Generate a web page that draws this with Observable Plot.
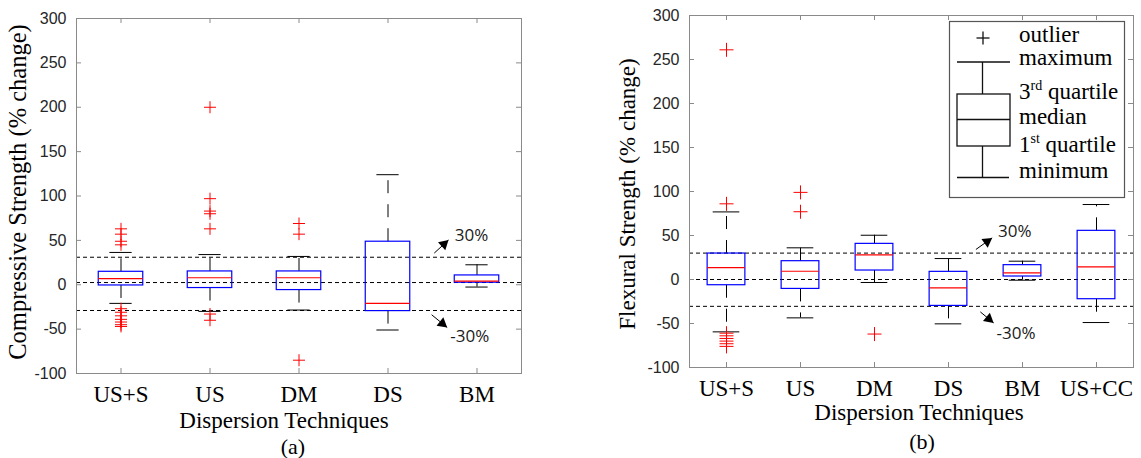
<!DOCTYPE html>
<html>
<head>
<meta charset="utf-8">
<script src="https://cdn.jsdelivr.net/npm/d3@7"></script>
<script src="https://cdn.jsdelivr.net/npm/@observablehq/plot@0.6"></script>
<style>
  body { margin: 0; background: #fff; }
  #fig { position: relative; width: 1141px; height: 458px; overflow: hidden; background: #fff; }
  #fig > svg { position: absolute; top: 0; }
</style>
</head>
<body>
<div id="fig"></div>
<script>
// ---------- (a) Compressive strength, % change ----------
const techniquesA = ["US+S", "US", "DM", "DS", "BM"];
const compLow    = [-21, -30, -28.5, -51, -2.6];
const compQ1     = [-0.8, -3.7, -6, -29.7, 2.3];
const compMedian = [6.8, 7.9, 7.9, -21, 4.1];
const compQ3     = [14.6, 15, 15, 48.5, 10.5];
const compHigh   = [36.4, 34, 31.9, 124, 22.5];
const compOutliers = [
  [63, 57, 49, 45, -27, -31, -35, -39, -42, -45, -47],
  [200, 97, 83, 80, 63, -33, -40],
  [69, 57, -85],
  [],
  []
];
const compRefLines = [31, 2.5, -29];

// ---------- (b) Flexural strength, % change ----------
const techniquesB = ["US+S", "US", "DM", "DS", "BM", "US+CC"];
const flexLow    = [-59.5, -43.6, -3.4, -50.4, -0.8, -48.9];
const flexQ1     = [-6.5, -10.7, 10.2, -30, 3.4, -22.4];
const flexMedian = [13.6, 9.4, 28, -9.5, 7.5, 14.3];
const flexQ3     = [29.5, 20.8, 40.5, 8.7, 16.3, 55.3];
const flexHigh   = [76.8, 36, 50.3, 23.8, 20.8, 85.2];
const flexOutliers = [
  [261, 86, -61, -64, -67, -70, -73, -76],
  [99, 77],
  [-62],
  [],
  [],
  []
];
const flexRefLines = [30, 0, -30.5];

// ---------- threshold annotations ----------
const annLabels = ["30%", "-30%"];
const annTextXA = [3.75, 3.70], annTextYA = [56, -58];
const annFromXA = [3.52, 3.49], annFromYA = [35.7, -33.8];
const annToXA   = [3.68, 3.665], annToYA  = [50.4, -48.1];
const annTextXB = [3.67, 3.65], annTextYB = [54.5, -61.8];
const annFromXB = [3.37, 3.43], annFromYB = [34.1, -36.8];
const annToXB   = [3.59, 3.61], annToYB   = [47.3, -49.3];

const yTicks = [-100, -50, 0, 50, 100, 150, 200, 250, 300];
const yDomain = [-100, 300];

const FRAME = "#8a8a8a";
const BOX = "#0000ff";
const MEDIAN = "#ff0000";
const OUTLIER = "#ff0000";

// open "+" marker drawn as two strokes
const plusSymbol = {
  draw(context, size) {
    const r = Math.sqrt(size / Math.PI);
    context.moveTo(-r, 0); context.lineTo(r, 0);
    context.moveTo(0, -r); context.lineTo(0, r);
  }
};

function boxPanel(cfg) {
  const {names, low, q1, med, q3, high, outliers, refs, ann, width, height, margin,
         capHalf, boxHalf, crossR, tickFont} = cfg;
  const idx = names.map((_, i) => i);
  const stats = idx.map(i => ({i, low: low[i], q1: q1[i], med: med[i], q3: q3[i], high: high[i]}));
  const pts = idx.flatMap(i => outliers[i].map(v => ({i, v})));
  const plotW = width - margin.left - margin.right;
  const plotH = height - margin.top - margin.bottom;
  const pxX = plotW / names.length;
  const pxY = plotH / (yDomain[1] - yDomain[0]);

  // filled arrowheads, rotated along each shaft in screen space
  const headR = 4;
  const back = 2 * Math.sqrt(Math.PI * headR * headR / (3 * Math.sqrt(3)));
  const heads = ann.map(a => {
    const dx = (a.x2 - a.x1) * pxX, dy = -(a.y2 - a.y1) * pxY;
    const len = Math.hypot(dx, dy), ux = dx / len, uy = dy / len;
    return {
      x: a.x2 - ux * back / pxX,
      y: a.y2 + uy * back / pxY,
      angle: Math.atan2(ux, -uy) * 180 / Math.PI
    };
  });

  return Plot.plot({
    width, height,
    marginLeft: margin.left, marginRight: margin.right,
    marginTop: margin.top, marginBottom: margin.bottom,
    style: {background: "transparent", overflow: "visible"},
    x: {type: "linear", domain: [-0.5, names.length - 0.5]},
    y: {type: "linear", domain: yDomain},
    marks: [
      Plot.ruleY(refs, {y: d => d, stroke: "#000", strokeWidth: 1, strokeDasharray: "4,3"}),
      // whiskers
      Plot.ruleX(stats, {x: "i", y1: "q3", y2: "high", stroke: "#000", strokeDasharray: "13,11"}),
      Plot.ruleX(stats, {x: "i", y1: "q1", y2: "low", stroke: "#000", strokeDasharray: "13,11"}),
      Plot.ruleY(stats, {y: "high", x1: d => d.i - capHalf, x2: d => d.i + capHalf, stroke: "#000"}),
      Plot.ruleY(stats, {y: "low", x1: d => d.i - capHalf, x2: d => d.i + capHalf, stroke: "#000"}),
      // boxes and medians
      Plot.rect(stats, {x1: d => d.i - boxHalf, x2: d => d.i + boxHalf, y1: "q1", y2: "q3",
                        fill: "none", stroke: BOX, strokeWidth: 1.2}),
      Plot.ruleY(stats, {y: "med", x1: d => d.i - boxHalf, x2: d => d.i + boxHalf,
                         stroke: MEDIAN, strokeWidth: 1.2}),
      // outliers
      Plot.dot(pts, {x: "i", y: "v", symbol: plusSymbol, r: crossR, stroke: OUTLIER,
                     fill: "none", strokeWidth: 1}),
      // threshold annotations
      Plot.link(ann, {x1: "x1", y1: "y1", x2: "x2", y2: "y2", stroke: "#000", strokeWidth: 1}),
      Plot.dot(heads, {x: "x", y: "y", symbol: "triangle", r: headR, fill: "#000",
                       stroke: "none", rotate: "angle"}),
      Plot.text(ann, {x: "tx", y: "ty", text: "label", textAnchor: "start",
                      fontFamily: "Open Sans", fontSize: 17, fill: "#1a1a1a"}),
      // inward ticks on all four sides
      Plot.tickY(yTicks, {y: d => d, insetRight: plotW - 5, stroke: FRAME}),
      Plot.tickY(yTicks, {y: d => d, insetLeft: plotW - 5, stroke: FRAME}),
      Plot.tickX(idx, {x: d => d, insetBottom: plotH - 5, stroke: FRAME}),
      Plot.tickX(idx, {x: d => d, insetTop: plotH - 5, stroke: FRAME}),
      Plot.axisY(yTicks, {tickSize: 0, tickPadding: 10, tickFormat: d => String(d),
                          fontFamily: "Liberation Sans", fontSize: tickFont, color: "#262626", label: null}),
      Plot.axisX(idx, {tickSize: 0, tickPadding: 12, tickFormat: i => names[i],
                       fontFamily: "Liberation Serif", fontSize: 23, color: "#000", label: null}),
      Plot.frame({stroke: FRAME})
    ]
  });
}

function annotations(tx, ty, x1, y1, x2, y2) {
  return annLabels.map((label, k) => ({label, tx: tx[k], ty: ty[k], x1: x1[k], y1: y1[k], x2: x2[k], y2: y2[k]}));
}

const fig = document.getElementById("fig");

const left = boxPanel({
  names: techniquesA, low: compLow, q1: compQ1, med: compMedian, q3: compQ3, high: compHigh,
  outliers: compOutliers, refs: compRefLines,
  ann: annotations(annTextXA, annTextYA, annFromXA, annFromYA, annToXA, annToYA),
  width: 540, height: 458, margin: {left: 76, right: 19, top: 18, bottom: 85},
  capHalf: 0.125, boxHalf: 0.25, crossR: 6, tickFont: 16
});
left.style.left = "0px";
fig.appendChild(left);

const right = boxPanel({
  names: techniquesB, low: flexLow, q1: flexQ1, med: flexMedian, q3: flexQ3, high: flexHigh,
  outliers: flexOutliers, refs: flexRefLines,
  ann: annotations(annTextXB, annTextYB, annFromXB, annFromYB, annToXB, annToYB),
  width: 541, height: 458, margin: {left: 89, right: 8, top: 15, bottom: 91},
  capHalf: 0.18, boxHalf: 0.255, crossR: 7, tickFont: 16
});
right.style.left = "600px";
fig.appendChild(right);

// ---------- titles and box-plot key ----------
const serif = "Liberation Serif";
const over = d3.create("svg")
  .attr("width", 1141).attr("height", 458)
  .style("left", "0px").style("pointer-events", "none")
  .attr("font-family", serif).attr("font-size", 23).attr("fill", "#000");

over.append("text").attr("transform", "translate(26,192) rotate(-90)")
  .attr("font-size", 24.5)
  .attr("text-anchor", "middle").text("Compressive Strength (% change)");
over.append("text").attr("transform", "translate(635,194) rotate(-90)")
  .attr("text-anchor", "middle").text("Flexural Strength (% change)");
over.append("text").attr("x", 284).attr("y", 428).attr("text-anchor", "middle").text("Dispersion Techniques");
over.append("text").attr("x", 293).attr("y", 454).attr("font-size", 22).attr("text-anchor", "middle").text("(a)");
over.append("text").attr("x", 919).attr("y", 420).attr("text-anchor", "middle").text("Dispersion Techniques");
over.append("text").attr("x", 922).attr("y", 449).attr("font-size", 22).attr("text-anchor", "middle").text("(b)");

const key = over.append("g");
key.append("rect").attr("x", 949.5).attr("y", 21.5).attr("width", 175).attr("height", 176)
  .attr("fill", "#fff").attr("stroke", "#555").attr("stroke-width", 1.2);
const ink = "#111";
const seg = (x1, y1, x2, y2) => key.append("line").attr("x1", x1).attr("y1", y1)
  .attr("x2", x2).attr("y2", y2).attr("stroke", ink).attr("stroke-width", 1.3);
seg(976.5, 38, 989.5, 38); seg(983, 31.5, 983, 44.5);
seg(957, 62, 1010, 62);
seg(982.5, 62, 982.5, 94);
key.append("rect").attr("x", 957).attr("y", 94).attr("width", 53).attr("height", 52)
  .attr("fill", "none").attr("stroke", ink).attr("stroke-width", 1.3);
seg(957, 119.5, 1010, 119.5);
seg(982.5, 146, 982.5, 177.5);
seg(957, 177.5, 1009, 177.5);

const keyText = (y, parts) => {
  const t = key.append("text").attr("x", 1019).attr("y", y);
  parts.forEach(([s, sup]) => {
    const sp = t.append("tspan").text(s);
    if (sup) sp.attr("font-size", 14).attr("dy", -9);
    else if (t.selectAll("tspan").size() > 1) sp.attr("dy", 9);
  });
};
keyText(41.5, [["outlier"]]);
keyText(65, [["maximum"]]);
keyText(99, [["3"], ["rd", true], [" quartile"]]);
keyText(123.5, [["median"]]);
keyText(151.5, [["1"], ["st", true], [" quartile"]]);
keyText(178, [["minimum"]]);

fig.appendChild(over.node());
</script>
</body>
</html>
